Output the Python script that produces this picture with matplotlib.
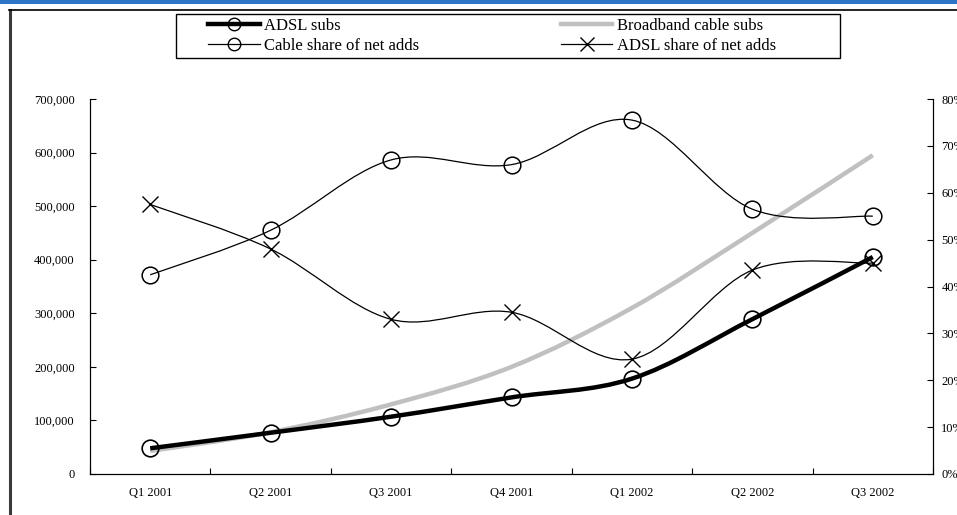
import matplotlib.pyplot as plt
import numpy as np
from matplotlib.path import Path
from matplotlib.patches import PathPatch, Rectangle
from matplotlib.lines import Line2D
from matplotlib.ticker import FixedLocator, FuncFormatter

plt.rcParams['font.family'] = ['Liberation Serif', 'DejaVu Serif']

quarters = ['Q1 2001', 'Q2 2001', 'Q3 2001', 'Q4 2001', 'Q1 2002', 'Q2 2002', 'Q3 2002']
adsl_subs = [48000, 77000, 107000, 143000, 178000, 289000, 405000]
cable_subs = [43000, 78000, 130000, 200000, 310000, 450000, 595000]
cable_share = [0.425, 0.52, 0.67, 0.66, 0.755, 0.565, 0.55]
adsl_share = [0.575, 0.48, 0.33, 0.345, 0.245, 0.435, 0.45]

W, H = 957, 515


def smooth_path(x, y):
    # Excel-style smoothed line: cubic bezier segments (catmull-rom control points)
    pts = np.column_stack([x, y]).astype(float)
    n = len(pts)
    verts, codes = [pts[0]], [Path.MOVETO]
    for i in range(n - 1):
        p0, p1 = pts[max(i - 1, 0)], pts[i]
        p2, p3 = pts[i + 1], pts[min(i + 2, n - 1)]
        verts += [p1 + (p2 - p0) / 6, p2 - (p3 - p1) / 6, p2]
        codes += [Path.CURVE4] * 3
    return Path(verts, codes)


fig = plt.figure(figsize=(W / 100, H / 100), dpi=100)

# screenshot frame: blue strip on top, dark rule on left and top
fig.patches.append(Rectangle((0, 1 - 4 / H), 1, 4 / H, transform=fig.transFigure,
                             facecolor='#2e74c6', edgecolor='none'))
fig.add_artist(Line2D([10 / W, 10 / W], [0, 1 - 10 / H], transform=fig.transFigure,
                      color='#3a3a3a', lw=2.2))
fig.add_artist(Line2D([9 / W, 1], [1 - 10 / H, 1 - 10 / H], transform=fig.transFigure,
                      color='black', lw=1.2))

ax = fig.add_axes([90 / W, (H - 474) / H, (933 - 90) / W, (474 - 99) / H])
ax2 = ax.twinx()
x = np.arange(len(quarters))

ax.add_patch(PathPatch(smooth_path(x, cable_subs), fill=False, edgecolor='#c0c0c0', lw=3.2))
ax.add_patch(PathPatch(smooth_path(x, adsl_subs), fill=False, edgecolor='black', lw=3.2))
ax.plot(x, adsl_subs, ls='none', marker='o', ms=12, mfc='none', mec='black', mew=1.2)

ax2.add_patch(PathPatch(smooth_path(x, cable_share), fill=False, edgecolor='black', lw=0.9))
ax2.add_patch(PathPatch(smooth_path(x, adsl_share), fill=False, edgecolor='black', lw=0.9))
ax2.plot(x, cable_share, ls='none', marker='o', ms=12, mfc='none', mec='black', mew=1.1)
ax2.plot(x, adsl_share, ls='none', marker='x', ms=12, mec='black', mew=1.0)

ax.set_xlim(-0.5, len(quarters) - 0.5)
ax.set_ylim(0, 700000)
ax2.set_ylim(0, 0.8)

ax.xaxis.set_major_locator(FixedLocator(np.arange(-0.5, len(quarters), 1.0)))
ax.xaxis.set_minor_locator(FixedLocator(x))
ax.set_xticklabels([])
ax.set_xticklabels(quarters, minor=True)
ax.tick_params(axis='x', which='major', direction='in', length=4, width=0.8)
ax.tick_params(axis='x', which='minor', length=0, pad=9, labelsize=9)

ax.set_yticks(np.arange(0, 700001, 100000))
ax.yaxis.set_major_formatter(FuncFormatter(lambda v, p: f'{int(v):,}'))
ax.tick_params(axis='y', direction='in', length=4, width=0.8, pad=11, labelsize=9)

ax2.set_yticks(np.arange(0, 0.81, 0.1))
ax2.yaxis.set_major_formatter(FuncFormatter(lambda v, p: f'{v:.0%}'))
ax2.tick_params(axis='y', direction='in', length=4, width=0.8, pad=6, labelsize=9)

for a in (ax, ax2):
    a.spines['top'].set_visible(False)
    for s in ('left', 'right', 'bottom'):
        a.spines[s].set_linewidth(0.8)

# legend box drawn separately so it can be wider than its entries (as in the source)
fig.patches.append(Rectangle((176 / W, 1 - 58 / H), (840 - 176) / W, 44 / H,
                             transform=fig.transFigure, facecolor='white',
                             edgecolor='black', lw=1.0))
handles = [
    Line2D([], [], color='black', lw=3.2, marker='o', ms=9, mfc='none', mec='black'),
    Line2D([], [], color='black', lw=0.9, marker='o', ms=9, mfc='none', mec='black'),
    Line2D([], [], color='#c0c0c0', lw=3.2),
    Line2D([], [], color='black', lw=0.9, marker='x', ms=10, mec='black'),
]
labels = ['ADSL subs', 'Cable share of net adds', 'Broadband cable subs', 'ADSL share of net adds']
fig.legend(handles, labels, ncol=2, frameon=False, loc='upper left',
           bbox_to_anchor=(204 / W, 1 - 14 / H), fontsize=12,
           handlelength=3.1, handletextpad=0.25, columnspacing=8.5,
           labelspacing=0.2, borderpad=0.25, borderaxespad=0)

fig.savefig('out.png', dpi=100, facecolor='white')
